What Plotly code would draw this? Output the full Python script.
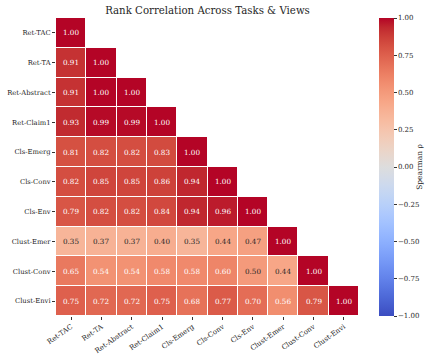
import plotly.graph_objects as go

labels = ["Ret-TAC", "Ret-TA", "Ret-Abstract", "Ret-Claim1", "Cls-Emerg",
          "Cls-Conv", "Cls-Env", "Clust-Emer", "Clust-Conv", "Clust-Envi"]

row_ret_tac = [1.00]
row_ret_ta = [0.91, 1.00]
row_ret_abstract = [0.91, 1.00, 1.00]
row_ret_claim1 = [0.93, 0.99, 0.99, 1.00]
row_cls_emerg = [0.81, 0.82, 0.82, 0.83, 1.00]
row_cls_conv = [0.82, 0.85, 0.85, 0.86, 0.94, 1.00]
row_cls_env = [0.79, 0.82, 0.82, 0.84, 0.94, 0.96, 1.00]
row_clust_emer = [0.35, 0.37, 0.37, 0.40, 0.35, 0.44, 0.47, 1.00]
row_clust_conv = [0.65, 0.54, 0.54, 0.58, 0.58, 0.60, 0.50, 0.44, 1.00]
row_clust_envi = [0.75, 0.72, 0.72, 0.75, 0.68, 0.77, 0.70, 0.56, 0.79, 1.00]

rows = [row_ret_tac, row_ret_ta, row_ret_abstract, row_ret_claim1, row_cls_emerg,
        row_cls_conv, row_cls_env, row_clust_emer, row_clust_conv, row_clust_envi]

n = len(labels)
z = [r + [None] * (n - len(r)) for r in rows]

cw = [(59, 76, 192), (68, 90, 204), (77, 104, 215), (87, 117, 225), (98, 130, 234),
      (108, 142, 241), (119, 154, 247), (130, 165, 251), (141, 176, 254), (152, 185, 255),
      (163, 194, 255), (174, 201, 253), (184, 208, 249), (194, 213, 244), (204, 217, 238),
      (213, 219, 230), (221, 221, 221), (229, 216, 209), (236, 211, 197), (241, 204, 185),
      (245, 196, 173), (247, 187, 160), (247, 177, 148), (247, 166, 135), (244, 154, 123),
      (241, 141, 111), (236, 127, 99), (229, 112, 88), (222, 96, 77), (213, 80, 66),
      (203, 62, 56), (192, 40, 47), (180, 4, 38)]
colorscale = [[i / (len(cw) - 1), "rgb(%d,%d,%d)" % c] for i, c in enumerate(cw)]


def cmap(v):
    t = (v + 1) / 2 * (len(cw) - 1)
    i = min(int(t), len(cw) - 2)
    f = t - i
    return [cw[i][k] + (cw[i + 1][k] - cw[i][k]) * f for k in range(3)]


def lum(rgb):
    out = []
    for c in rgb:
        c = c / 255
        out.append(c / 12.92 if c <= 0.03928 else ((c + 0.055) / 1.055) ** 2.4)
    return 0.2126 * out[0] + 0.7152 * out[1] + 0.0722 * out[2]


font_family = "DejaVu Serif"

fig = go.Figure(go.Heatmap(
    z=z, x=labels, y=labels, zmin=-1, zmax=1, colorscale=colorscale,
    xgap=1, ygap=1, hoverongaps=False,
    colorbar=dict(
        x=(379 - 56) / 303, xanchor="left", y=0.5, yanchor="middle", len=1, lenmode="fraction",
        xpad=0, ypad=0,
        thickness=15, outlinewidth=0, tickvals=[-1, -0.75, -0.5, -0.25, 0, 0.25, 0.5, 0.75, 1],
        tickformat=".2f", ticks="outside", ticklen=3, tickcolor="#333",
        tickfont=dict(family=font_family, size=7, color="#262626"),
        title=dict(text="Spearman ρ", side="right",
                   font=dict(family=font_family, size=7.5, color="#262626")),
    ),
))

annotations = []
for i, r in enumerate(rows):
    for j, v in enumerate(r):
        col = "#262626" if lum(cmap(v)) > 0.408 else "#ffffff"
        annotations.append(dict(x=labels[j], y=labels[i], text="%.2f" % v, showarrow=False,
                                font=dict(family=font_family, size=7.2, color=col)))

fig.update_layout(
    width=439, height=359,
    margin=dict(l=56, r=80, t=18, b=43, autoexpand=False),
    paper_bgcolor="white", plot_bgcolor="white",
    title=dict(text="Rank Correlation Across Tasks & Views", x=207.5 / 439,
               xanchor="center", y=1 - 10 / 359, yanchor="middle",
               font=dict(family=font_family, size=10.2, color="#262626", weight="normal")),
    annotations=annotations,
    xaxis=dict(tickangle=-35, ticks="outside", ticklen=3, tickcolor="#333", automargin=False,
               tickfont=dict(family=font_family, size=7, color="#262626"),
               showgrid=False, zeroline=False, showline=False),
    yaxis=dict(autorange="reversed", ticks="outside", ticklen=3, tickcolor="#333", automargin=False,
               tickfont=dict(family=font_family, size=6.8, color="#262626"),
               showgrid=False, zeroline=False, showline=False),
)

fig.write_html("out.html")
